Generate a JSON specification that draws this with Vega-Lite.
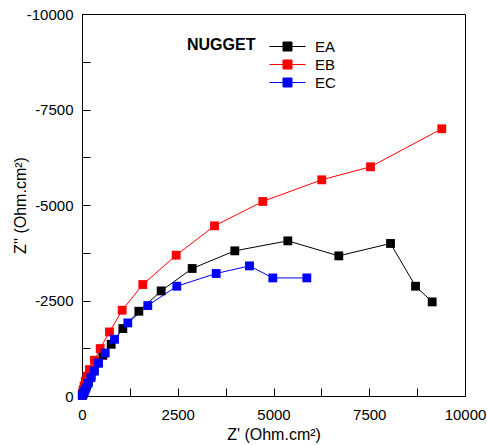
{
  "$schema": "https://vega.github.io/schema/vega-lite/v6.json",
  "width": 383,
  "height": 382,
  "autosize": "none",
  "padding": {"left": 82, "top": 14, "right": 22, "bottom": 49},
  "background": "white",
  "config": {
    "view": {"stroke": "black", "strokeWidth": 1},
    "font": "Liberation Sans"
  },
  "data": {
    "values": [
      {"s": "EA", "zr": 10, "zi": -15},
      {"s": "EA", "zr": 25, "zi": -50},
      {"s": "EA", "zr": 50, "zi": -110},
      {"s": "EA", "zr": 80, "zi": -180},
      {"s": "EA", "zr": 120, "zi": -270},
      {"s": "EA", "zr": 170, "zi": -380},
      {"s": "EA", "zr": 240, "zi": -520},
      {"s": "EA", "zr": 320, "zi": -680},
      {"s": "EA", "zr": 420, "zi": -860},
      {"s": "EA", "zr": 544, "zi": -1066},
      {"s": "EA", "zr": 762, "zi": -1354},
      {"s": "EA", "zr": 1066, "zi": -1766},
      {"s": "EA", "zr": 1484, "zi": -2219},
      {"s": "EA", "zr": 2067, "zi": -2751},
      {"s": "EA", "zr": 2877, "zi": -3338},
      {"s": "EA", "zr": 3990, "zi": -3800},
      {"s": "EA", "zr": 5374, "zi": -4061},
      {"s": "EA", "zr": 6705, "zi": -3668},
      {"s": "EA", "zr": 8055, "zi": -3993},
      {"s": "EA", "zr": 8708, "zi": -2874},
      {"s": "EA", "zr": 9143, "zi": -2463},
      {"s": "EB", "zr": 5, "zi": -30},
      {"s": "EB", "zr": 15, "zi": -80},
      {"s": "EB", "zr": 30, "zi": -160},
      {"s": "EB", "zr": 55, "zi": -260},
      {"s": "EB", "zr": 85, "zi": -380},
      {"s": "EB", "zr": 130, "zi": -520},
      {"s": "EB", "zr": 196, "zi": -692},
      {"s": "EB", "zr": 326, "zi": -935},
      {"s": "EB", "zr": 475, "zi": -1242},
      {"s": "EB", "zr": 718, "zi": -1677},
      {"s": "EB", "zr": 1049, "zi": -2245},
      {"s": "EB", "zr": 1588, "zi": -2918},
      {"s": "EB", "zr": 2459, "zi": -3686},
      {"s": "EB", "zr": 3460, "zi": -4454},
      {"s": "EB", "zr": 4721, "zi": -5093},
      {"s": "EB", "zr": 6261, "zi": -5659},
      {"s": "EB", "zr": 7533, "zi": -6000},
      {"s": "EB", "zr": 9394, "zi": -6995},
      {"s": "EC", "zr": 10, "zi": -20},
      {"s": "EC", "zr": 30, "zi": -60},
      {"s": "EC", "zr": 60, "zi": -120},
      {"s": "EC", "zr": 100, "zi": -210},
      {"s": "EC", "zr": 160, "zi": -330},
      {"s": "EC", "zr": 230, "zi": -480},
      {"s": "EC", "zr": 320, "zi": -650},
      {"s": "EC", "zr": 431, "zi": -865},
      {"s": "EC", "zr": 606, "zi": -1127},
      {"s": "EC", "zr": 849, "zi": -1485},
      {"s": "EC", "zr": 1196, "zi": -1913},
      {"s": "EC", "zr": 1718, "zi": -2368},
      {"s": "EC", "zr": 2475, "zi": -2874},
      {"s": "EC", "zr": 3504, "zi": -3207},
      {"s": "EC", "zr": 4373, "zi": -3406},
      {"s": "EC", "zr": 4982, "zi": -3091},
      {"s": "EC", "zr": 5870, "zi": -3091}
    ]
  },
  "encoding": {
    "x": {
      "field": "zr", "type": "quantitative",
      "scale": {"domain": [0, 10000], "nice": false, "zero": false},
      "axis": {
        "values": [0, 1250, 2500, 3750, 5000, 6250, 7500, 8750, 10000],
        "labelExpr": "datum.value % 2500 === 0 ? '' + datum.value : ''",
        "grid": false, "tickSize": -8, "labelPadding": 19,
        "domainColor": "black", "tickColor": "black", "labelColor": "black",
        "labelFontSize": 15, "labelFlush": false, "labelOverlap": false,
        "title": "Z' (Ohm.cm²)", "titleFontSize": 16, "titleFontWeight": "normal",
        "titleColor": "black", "titlePadding": 4
      }
    },
    "y": {
      "field": "zi", "type": "quantitative",
      "scale": {"domain": [-10000, 0], "reverse": true, "nice": false, "zero": false},
      "axis": {
        "values": [0, -1250, -2500, -3750, -5000, -6250, -7500, -8750, -10000],
        "labelExpr": "datum.value % 2500 === 0 ? '' + datum.value : ''",
        "grid": false, "tickSize": -8, "labelPadding": 17,
        "domainColor": "black", "tickColor": "black", "labelColor": "black",
        "labelFontSize": 15, "labelFlush": false, "labelOverlap": false,
        "title": "Z'' (Ohm.cm²)", "titleFontSize": 16, "titleFontWeight": "normal",
        "titleColor": "black", "titleX": -54, "titleY": 191
      }
    },
    "color": {
      "field": "s", "type": "nominal",
      "scale": {"domain": ["EA", "EB", "EC"], "range": ["#000000", "#ff0000", "#0000ff"]},
      "legend": {
        "orient": "none", "legendX": 105, "legendY": 23,
        "title": "NUGGET", "titleOrient": "left", "titleAnchor": "start",
        "titleFont": "Liberation Sans", "titleFontWeight": "bold",
        "titleFontSize": 16, "titleColor": "black", "titlePadding": 22,
        "labelFontSize": 15, "labelColor": "black", "labelOffset": 18,
        "symbolType": "M-2,0H2M-0.5,-0.5H0.5V0.5H-0.5Z",
        "symbolSize": 324, "symbolStrokeWidth": 1, "rowPadding": -2,
        "symbolOpacity": 1,
        "encode": {"symbols": {"update": {"stroke": {"scale": "color", "field": "value"}}}}
      }
    }
  },
  "layer": [
    {"mark": {"type": "line", "strokeWidth": 1}},
    {"mark": {"type": "point", "shape": "square", "filled": true, "size": 78, "opacity": 1}}
  ]
}
